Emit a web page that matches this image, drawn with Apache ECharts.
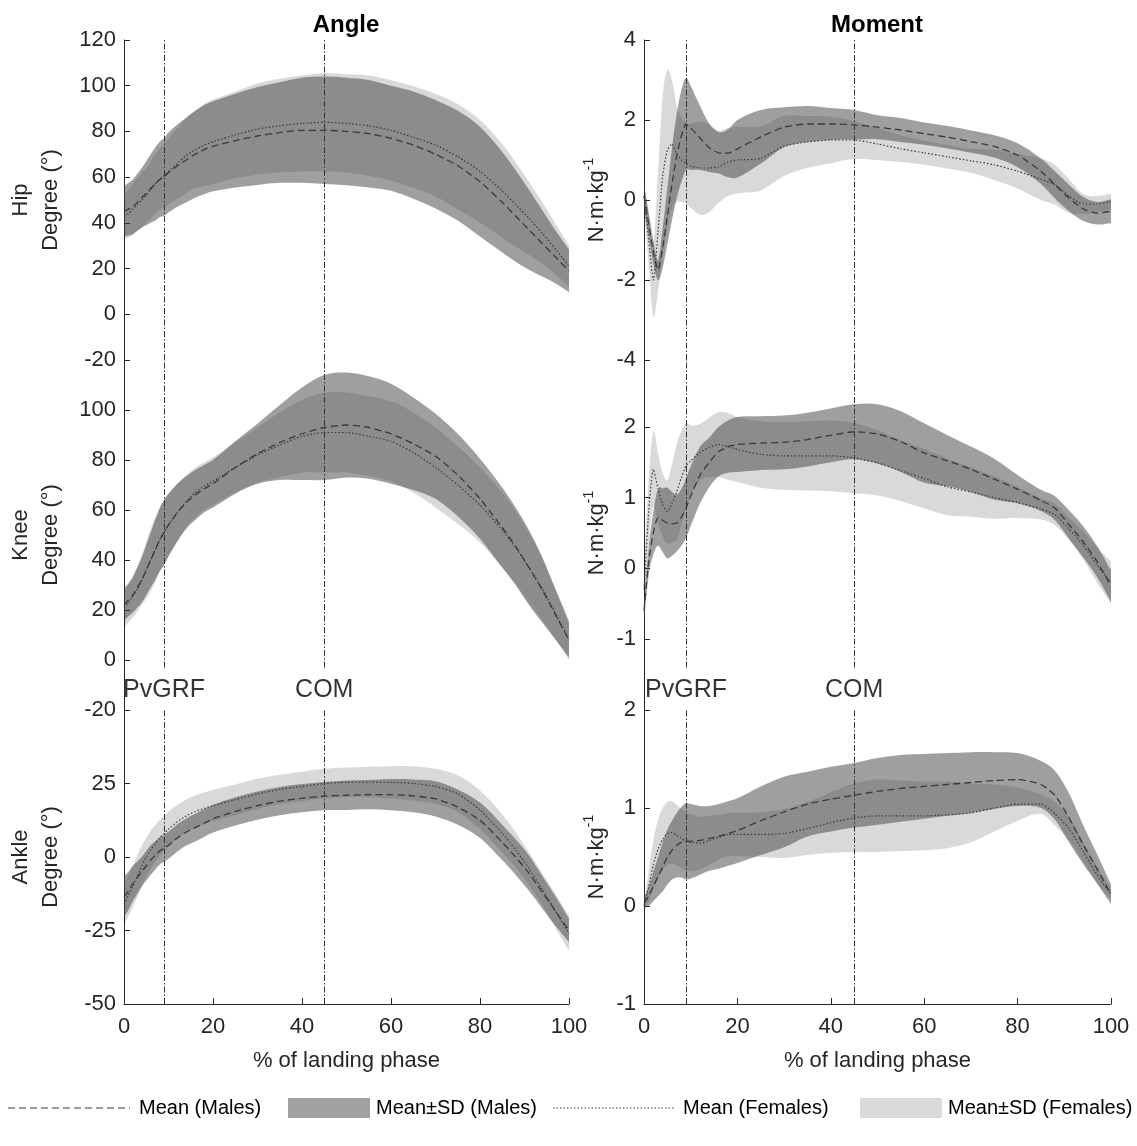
<!DOCTYPE html>
<html>
<head>
<meta charset="utf-8">
<script src="https://cdn.jsdelivr.net/npm/echarts@6/dist/echarts.min.js"></script>
<style>
  html, body { margin: 0; background: #fff; }
  #chart { width: 1137px; height: 1146px; }
</style>
</head>
<body>
<div id="chart"></div>
<script>
// % of landing phase (sample points)
const X = [0,1,2,3,4,5,6,7,8,9,10,12,14,16,18,20,25,30,35,40,45,50,55,60,65,70,75,80,85,88,91,94,97,100];

// event markers
const eventX = [9, 45];
const eventNames = ["PvGRF", "COM"];

// hip angle (deg)
const hipAngleM   = [45,46,47,49,51,53,55,57,59,60,62,65,67.5,70,72,73.5,76,78,79.5,80.5,80.5,80,79,77,74,70,65,58,49,43,37,31,25,19];
const hipAngleMsd = [11,11.5,12,12.5,13,14,15,16,16.5,17,17.5,18,18.5,19,19.5,19.7,20.5,21.4,22,23,23.5,23.5,23.5,23,23.5,23.7,24,24,22,20,17.5,14.5,11.5,9.3];
const hipAngleF   = [43,44,46,48,50,52,54.5,57,59,60.5,62.5,66,69.5,72,74,75.5,78.5,81,82.5,83.5,84,83.5,82.5,80.5,77.5,74,69,62.5,54,48,42,35.5,28.5,21];
const hipAngleFsd = [10,10.5,11,11.5,12,12,12.5,13,13.5,14,14.5,15.5,16.5,17,18,18.5,19,20,20.5,21,21.5,21.5,22,22,22.3,22.5,23,22.5,20.5,18.5,16,13.5,11,9];

// knee angle (deg)
const kneeAngleM   = [22,24,26,29,32,36,40,44,48,51,54,59,63,66,68.5,70.5,77,82.5,87,90.5,93,94,93,90.5,86.5,81.5,74,64.5,53,45.5,37,28,18,8];
const kneeAngleMsd = [6,6.5,7,8,9,10,11,12,12.5,13,12.5,11.5,10.5,10,9.5,9.5,10.5,12,15,18.5,21,21,20.5,20,18.5,17,16.5,16,16,15.5,15,13,10,7];
const kneeAngleF   = [21,23,25.5,28.5,32,36,40,44,48,51,54,59,63.5,67,69.5,71.5,77,82,86,89.5,91,91,89.5,87.5,83,77,70,62,52,45,37,28.5,18.5,8];
const kneeAngleFsd = [8,8,8.5,9,10,11.5,12.5,13,13,13,12.5,11.5,10.5,10,9.5,9.5,10,11,13,14.5,16,16,16,16,16,16,15.5,15,15,14.5,14,12.5,10,8];

// ankle angle (deg)
const ankleAngleM   = [-13.5,-11.5,-9,-7,-5,-3,-1,0.5,2,3,4,6.5,8.5,10,11.5,13,15.5,17.5,19,20,20.7,21,21.2,21.2,20.8,19.8,17,12.5,5,0,-5.5,-12,-18.5,-25];
const ankleAngleMsd = [7,6.5,6,5.5,5,5,5,4.8,4.6,4.6,4.6,4.6,4.6,4.7,4.7,4.7,4.8,4.8,4.8,4.8,4.8,5,5,5.3,5.6,6,6,6,6,6,6,5.5,5,4];
const ankleAngleF   = [-16,-13,-10,-6.5,-3,0,2.5,4.5,6.5,8,9.5,12,14,15.5,16.5,17.5,19.5,21.5,23,24,25,25.4,25.5,25.4,25,24,21.5,16,8,2.5,-4,-11,-18.5,-26];
const ankleAngleFsd = [7,7,7,7,7,6.5,6.5,6.3,6.2,6,6,5.8,5.6,5.5,5.4,5.3,5.2,5.1,5,5,5,5,5.2,5.5,5.8,6,6.3,6.6,6.5,6,5.5,5.5,5.8,6];

// hip moment (N.m/kg)
const hipMomM   = [0.1,-0.6,-1.3,-1.75,-1.2,-0.4,0.4,1.1,1.6,1.9,1.8,1.55,1.3,1.18,1.17,1.28,1.58,1.82,1.9,1.9,1.88,1.82,1.75,1.66,1.57,1.46,1.34,1.12,0.72,0.38,0.05,-0.22,-0.33,-0.28];
const hipMomMsd = [0.3,0.3,0.3,0.25,0.5,0.7,0.9,1.05,1.15,1.15,1.05,0.8,0.6,0.52,0.6,0.72,0.67,0.5,0.45,0.4,0.37,0.3,0.3,0.28,0.28,0.28,0.28,0.3,0.32,0.34,0.33,0.3,0.28,0.3];
const hipMomF   = [0.1,-1.0,-2.0,-0.8,0.6,1.25,1.4,1.15,1.0,0.92,0.85,0.8,0.8,0.83,0.95,1.0,1.04,1.35,1.45,1.5,1.5,1.4,1.28,1.18,1.08,0.98,0.88,0.72,0.52,0.38,0.1,-0.1,-0.1,-0.04];
const hipMomFsd = [0.35,0.6,0.9,1.5,2.0,2.0,1.6,1.2,1.05,1.0,1.05,1.17,1.1,0.9,0.85,0.83,0.8,0.75,0.65,0.58,0.47,0.4,0.33,0.3,0.29,0.3,0.38,0.43,0.52,0.5,0.42,0.25,0.2,0.2];

// knee moment (N.m/kg)
const kneeMomM   = [-0.6,0.1,0.5,0.72,0.68,0.64,0.63,0.64,0.72,0.85,1.02,1.32,1.5,1.65,1.72,1.75,1.77,1.78,1.82,1.88,1.93,1.9,1.79,1.63,1.52,1.4,1.26,1.12,0.96,0.85,0.62,0.38,0.1,-0.25];
const kneeMomMsd = [0.15,0.2,0.3,0.4,0.45,0.5,0.45,0.4,0.4,0.42,0.42,0.4,0.35,0.35,0.37,0.39,0.38,0.38,0.38,0.38,0.39,0.42,0.43,0.42,0.36,0.32,0.29,0.2,0.15,0.17,0.2,0.22,0.22,0.22];
const kneeMomF   = [-0.3,0.8,1.4,1.13,0.9,0.8,0.92,1.08,1.28,1.45,1.52,1.64,1.71,1.75,1.72,1.68,1.61,1.59,1.59,1.59,1.56,1.49,1.38,1.27,1.15,1.08,1.0,0.93,0.84,0.76,0.56,0.33,0.05,-0.2];
const kneeMomFsd = [0.3,0.45,0.53,0.5,0.45,0.45,0.55,0.68,0.66,0.6,0.5,0.4,0.42,0.46,0.47,0.46,0.47,0.48,0.49,0.5,0.5,0.46,0.43,0.42,0.4,0.35,0.3,0.22,0.15,0.15,0.16,0.2,0.25,0.3];

// ankle moment (N.m/kg)
const ankleMomM   = [0.03,0.1,0.2,0.3,0.4,0.5,0.57,0.62,0.65,0.66,0.66,0.67,0.69,0.71,0.74,0.77,0.87,0.96,1.04,1.09,1.13,1.17,1.2,1.22,1.24,1.26,1.28,1.29,1.24,1.13,0.9,0.63,0.38,0.12];
const ankleMomMsd = [0.05,0.1,0.15,0.2,0.25,0.28,0.3,0.33,0.36,0.39,0.38,0.35,0.33,0.33,0.33,0.33,0.35,0.36,0.33,0.33,0.33,0.34,0.34,0.33,0.32,0.31,0.29,0.27,0.24,0.25,0.25,0.2,0.15,0.1];
const ankleMomF   = [0,0.2,0.42,0.58,0.68,0.74,0.75,0.72,0.69,0.66,0.65,0.64,0.67,0.7,0.73,0.73,0.73,0.74,0.79,0.85,0.9,0.92,0.92,0.92,0.93,0.95,1.0,1.04,1.04,0.94,0.79,0.56,0.32,0.12];
const ankleMomFsd = [0.05,0.15,0.25,0.3,0.32,0.32,0.32,0.31,0.3,0.3,0.29,0.27,0.25,0.23,0.22,0.22,0.23,0.25,0.27,0.31,0.35,0.37,0.36,0.35,0.34,0.3,0.24,0.17,0.1,0.12,0.12,0.1,0.08,0.06];

const FONT = '"Liberation Sans", Arial, Helvetica, sans-serif';
const AX = '#262626';
const LINE = '#3a3a3a';
const MALE_BAND = 'rgba(64,64,64,0.5)';
const FEMALE_BAND = 'rgba(0,0,0,0.15)';
const MOM_NAME = 'N·m·kg{s|-1}';

// layout of the six panels
const panels = [
  { grid: { left: 124, top: 40,  width: 445, height: 320 }, min: -20, max: 120, step: 20, showMin: true,  showMax: true,  name: 'Hip\nDegree (°)',   gap: 58, vl: [-20, 120], bottom: false, d: [hipAngleM, hipAngleMsd, hipAngleF, hipAngleFsd] },
  { grid: { left: 124, top: 360, width: 445, height: 350 }, min: -20, max: 120, step: 20, showMin: true,  showMax: false, name: 'Knee\nDegree (°)',  gap: 58, vl: [-3, 120],  bottom: false, d: [kneeAngleM, kneeAngleMsd, kneeAngleF, kneeAngleFsd], ev: -12 },
  { grid: { left: 124, top: 710, width: 445, height: 294 }, min: -50, max: 50,  step: 25, showMin: true,  showMax: false, name: 'Ankle\nDegree (°)', gap: 58, vl: [-50, 50],  bottom: true,  d: [ankleAngleM, ankleAngleMsd, ankleAngleF, ankleAngleFsd] },
  { grid: { left: 644, top: 40,  width: 467, height: 320 }, min: -4,  max: 4,   step: 2,  showMin: true,  showMax: true,  name: MOM_NAME, gap: 32, vl: [-4, 4],    bottom: false, d: [hipMomM, hipMomMsd, hipMomF, hipMomFsd] },
  { grid: { left: 644, top: 356, width: 467, height: 354 }, min: -2,  max: 3,   step: 1,  showMin: false, showMax: false, name: MOM_NAME, gap: 32, vl: [-1.4, 3],  bottom: false, d: [kneeMomM, kneeMomMsd, kneeMomF, kneeMomFsd], ev: -1.72 },
  { grid: { left: 644, top: 710, width: 467, height: 294 }, min: -1,  max: 2,   step: 1,  showMin: true,  showMax: true,  name: MOM_NAME, gap: 32, vl: [-1, 2],    bottom: true,  d: [ankleMomM, ankleMomMsd, ankleMomF, ankleMomFsd] },
];

// cubic Hermite segments through pixel points (works in either x direction)
function hermite(pts) {
  const n = pts.length;
  const m = pts.map((p, i) => {
    const a = pts[Math.max(0, i - 1)], b = pts[Math.min(n - 1, i + 1)];
    return (b[1] - a[1]) / (b[0] - a[0]);
  });
  let d = '';
  for (let i = 0; i < n - 1; i++) {
    const p = pts[i], q = pts[i + 1], h = (q[0] - p[0]) / 3;
    d += ' C' + (p[0] + h) + ',' + (p[1] + m[i] * h) + ' ' + (q[0] - h) + ',' + (q[1] - m[i + 1] * h) + ' ' + q[0] + ',' + q[1];
  }
  return d;
}

// mean ± SD band drawn as one smooth closed path through the axis scales
function bandSeries(gi, mean, sd, color) {
  const rows = X.map((x, i) => [x, mean[i] - sd[i], mean[i] + sd[i]]);
  return {
    type: 'custom', xAxisIndex: gi, yAxisIndex: gi, silent: true, clip: true,
    data: rows, encode: { x: 0, y: [1, 2] },
    renderItem: (params, api) => {
      if (params.dataIndex !== 0) return null;
      const top = rows.map(r => api.coord([r[0], r[2]]));
      const bot = rows.map(r => api.coord([r[0], r[1]])).reverse();
      const path = 'M' + top[0][0] + ',' + top[0][1] + hermite(top) +
        ' L' + bot[0][0] + ',' + bot[0][1] + hermite(bot) + ' Z';
      return { type: 'path', shape: { pathData: path }, style: { fill: color } };
    }
  };
}

function meanSeries(gi, mean, dash, width) {
  return {
    type: 'line', xAxisIndex: gi, yAxisIndex: gi, symbol: 'none', smooth: 0.2, silent: true,
    data: X.map((x, i) => [x, mean[i]]),
    lineStyle: { color: LINE, width: width, type: dash }
  };
}

const grid = [], xAxis = [], yAxis = [], series = [];

panels.forEach((p, gi) => {
  grid.push(p.grid);
  xAxis.push({
    gridIndex: gi, type: 'value', min: 0, max: 100, interval: 20, show: p.bottom,
    axisLine: { onZero: false, lineStyle: { color: AX } },
    axisTick: { inside: true, length: 6, lineStyle: { color: AX } },
    splitLine: { show: false },
    axisLabel: { fontSize: 22, color: AX, fontFamily: FONT, margin: 12 },
    name: '% of landing phase', nameLocation: 'middle', nameGap: 46,
    nameTextStyle: { fontSize: 22, color: AX, fontFamily: FONT }
  });
  yAxis.push({
    gridIndex: gi, type: 'value', min: p.min, max: p.max, interval: p.step,
    axisLine: { show: true, onZero: false, lineStyle: { color: AX } },
    axisTick: { inside: true, length: 6, lineStyle: { color: AX } },
    splitLine: { show: false },
    axisLabel: { fontSize: 22, color: AX, fontFamily: FONT, margin: 8, showMinLabel: p.showMin, showMaxLabel: p.showMax },
    name: p.name, nameLocation: 'middle', nameGap: p.gap,
    nameTextStyle: {
      fontSize: 22, color: AX, fontFamily: FONT, lineHeight: 30,
      rich: { s: { fontSize: 14, fontFamily: FONT, color: AX, verticalAlign: 'top', padding: [0, 0, 10, 0] } }
    }
  });

  const [mM, mS, fM, fS] = p.d;
  series.push(bandSeries(gi, fM, fS, FEMALE_BAND));
  series.push(bandSeries(gi, mM, mS, MALE_BAND));
  series.push(meanSeries(gi, fM, [1.5, 2], 1.2));
  const male = meanSeries(gi, mM, [7, 4], 1.3);
  male.markLine = {
    silent: true, symbol: ['none', 'none'], label: { show: false },
    lineStyle: { color: '#333', width: 1, type: [6, 2, 1.5, 2] },
    data: eventX.map(x => [{ coord: [x, p.vl[0]] }, { coord: [x, p.vl[1]] }])
  };
  series.push(male);

  if (p.ev !== undefined) {
    series.push({
      type: 'scatter', xAxisIndex: gi, yAxisIndex: gi, symbolSize: 1, silent: true,
      itemStyle: { color: 'rgba(0,0,0,0)' },
      data: eventX.map((x, i) => ({ value: [x, p.ev], name: eventNames[i] })),
      label: { show: true, position: 'inside', formatter: '{b}', fontSize: 25, color: '#000', fontFamily: FONT }
    });
  }
});

// titles and legend
const txt = (x, y, text, size, align, weight) => ({
  type: 'text', x: x, y: y, silent: true,
  style: { text: text, fill: '#000', font: (weight || 'normal') + ' ' + size + 'px ' + FONT, align: align, verticalAlign: 'middle' }
});
const graphic = [
  txt(346, 25, 'Angle', 24, 'center', 'bold'),
  txt(877, 25, 'Moment', 24, 'center', 'bold'),
  { type: 'line', silent: true, shape: { x1: 8, y1: 1108, x2: 130, y2: 1108 }, style: { stroke: LINE, lineWidth: 1.2, lineDash: [7, 4] } },
  txt(139, 1108, 'Mean (Males)', 20, 'left'),
  { type: 'rect', silent: true, shape: { x: 288, y: 1098, width: 82, height: 20 }, style: { fill: '#a0a0a0' } },
  txt(376, 1108, 'Mean±SD (Males)', 20, 'left'),
  { type: 'line', silent: true, shape: { x1: 553, y1: 1108, x2: 675, y2: 1108 }, style: { stroke: LINE, lineWidth: 1.2, lineDash: [1.5, 2] } },
  txt(683, 1108, 'Mean (Females)', 20, 'left'),
  { type: 'rect', silent: true, shape: { x: 860, y: 1098, width: 82, height: 20 }, style: { fill: '#d9d9d9' } },
  txt(948, 1108, 'Mean±SD (Females)', 20, 'left')
];

const chart = echarts.init(document.getElementById('chart'), null, { renderer: 'canvas' });
chart.setOption({
  animation: false,
  backgroundColor: '#fff',
  textStyle: { fontFamily: FONT },
  grid, xAxis, yAxis, series, graphic
});
</script>
</body>
</html>
